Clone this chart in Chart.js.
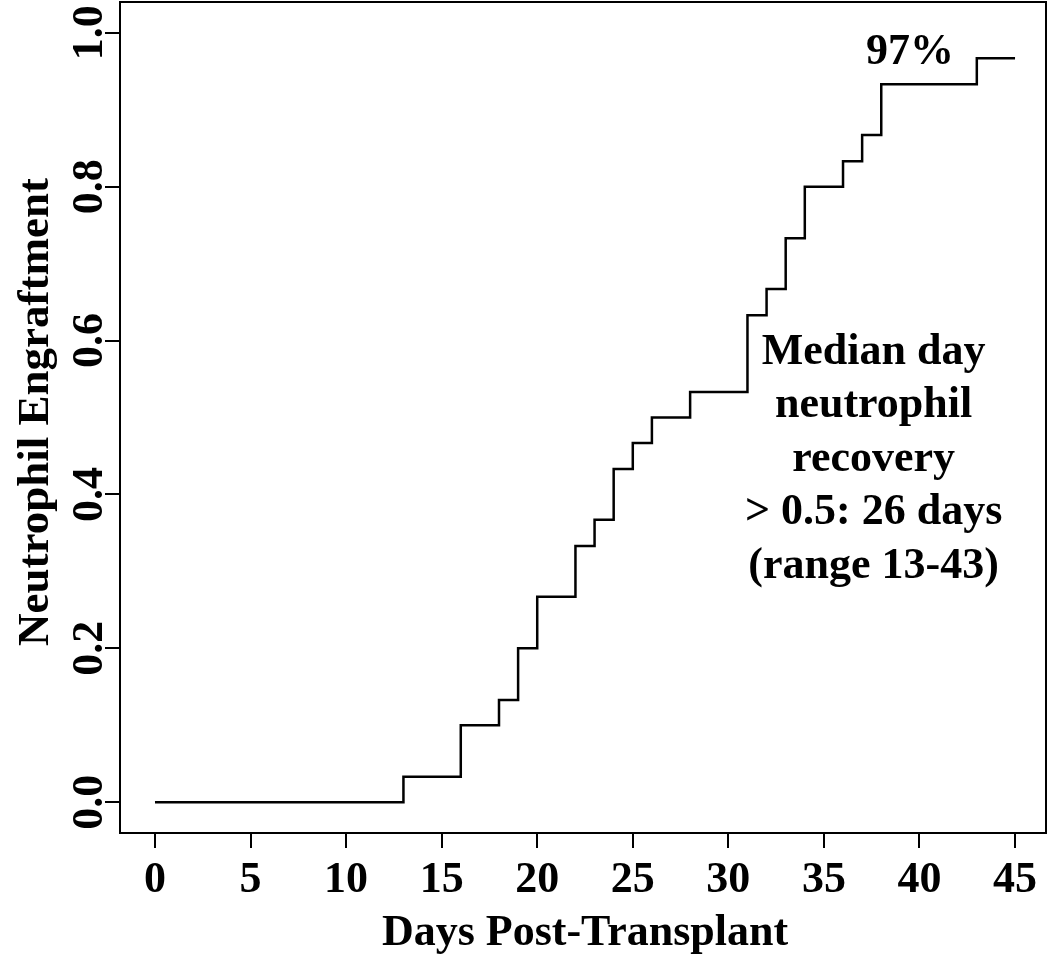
<!DOCTYPE html>
<html>
<head>
<meta charset="utf-8">
<script src="https://cdn.jsdelivr.net/npm/chart.js@4/dist/chart.umd.min.js"></script>
<style>
  html, body { margin: 0; padding: 0; background: #fff; }
  #wrap { width: 1050px; height: 955px; }
</style>
</head>
<body>
<div id="wrap"><canvas id="chart" width="1050" height="955"></canvas></div>
<script>
// step curve: day of each engraftment event and cumulative fraction engrafted
const days = [0, 13, 16, 18, 19, 20, 22, 23, 24, 25, 26, 28, 31, 32, 33, 34, 36, 37, 38, 43, 45];
const engraft = [0, 0.033, 0.1, 0.133, 0.2, 0.267, 0.333, 0.367, 0.433, 0.467, 0.5, 0.533, 0.633, 0.667, 0.733, 0.8, 0.833, 0.867, 0.933, 0.967, 0.967];

const xTicks = [0, 5, 10, 15, 20, 25, 30, 35, 40, 45];
const yTicks = [0, 0.2, 0.4, 0.6, 0.8, 1.0];
const yTickLabels = ['0.0', '0.2', '0.4', '0.6', '0.8', '1.0'];

const xTitle = 'Days Post-Transplant';
const yTitle = 'Neutrophil Engraftment';
const finalLabel = '97%';
const medianNote = ['Median day', 'neutrophil', 'recovery', '> 0.5: 26 days', '(range 13-43)'];

const FONT = "'Liberation Serif', 'Times New Roman', serif";

const textPlugin = {
  id: 'textPlugin',
  afterDraw(chart) {
    const ctx = chart.ctx;
    const area = chart.chartArea;
    const xs = chart.scales.x;
    const ys = chart.scales.y;
    ctx.save();
    // box round the plot
    ctx.strokeStyle = '#000';
    ctx.lineWidth = 2;
    ctx.strokeRect(area.left, area.top, area.right - area.left, area.bottom - area.top);

    ctx.fillStyle = '#000';
    ctx.font = 'bold 44px ' + FONT;
    ctx.textAlign = 'center';
    ctx.textBaseline = 'alphabetic';

    // rotated y tick labels
    yTicks.forEach((v, i) => {
      ctx.save();
      ctx.translate(102, ys.getPixelForValue(v));
      ctx.rotate(-Math.PI / 2);
      ctx.fillText(yTickLabels[i], 0, 0);
      ctx.restore();
    });

    // y title
    ctx.save();
    ctx.font = 'bold 45px ' + FONT;
    ctx.translate(48, 412);
    ctx.rotate(-Math.PI / 2);
    ctx.fillText(yTitle, 0, 0);
    ctx.restore();

    // x title
    ctx.fillText(xTitle, 585, 945);

    // annotations
    ctx.fillText(finalLabel, xs.getPixelForValue(39.5), ys.getPixelForValue(0.96));
    const x0 = xs.getPixelForValue(37.6);
    const y0 = ys.getPixelForValue(0.57);
    medianNote.forEach((line, i) => {
      ctx.fillText(line, x0, y0 + i * 53.5);
    });
    ctx.restore();
  }
};

new Chart(document.getElementById('chart').getContext('2d'), {
  type: 'line',
  data: {
    datasets: [{
      data: days.map((d, i) => ({ x: d, y: engraft[i] })),
      stepped: 'before',
      borderColor: '#000',
      borderWidth: 2.5,
      pointRadius: 0,
      fill: false
    }]
  },
  options: {
    responsive: false,
    animation: false,
    layout: { padding: { top: 2, right: 4, left: 0, bottom: 0 } },
    plugins: { legend: { display: false }, tooltip: { enabled: false } },
    scales: {
      x: {
        type: 'linear',
        min: -1.83,
        max: 46.62,
        afterBuildTicks: s => { s.ticks = xTicks.map(v => ({ value: v })); },
        afterFit: s => { s.height = 122; },
        border: { display: false },
        grid: { drawOnChartArea: false, drawTicks: true, tickLength: 15, tickColor: '#000', lineWidth: 2 },
        ticks: {
          color: '#000',
          padding: 6,
          maxRotation: 0,
          font: { family: FONT, weight: 'bold', size: 44 },
          callback: v => String(v)
        }
      },
      y: {
        type: 'linear',
        min: -0.04,
        max: 1.04,
        afterBuildTicks: s => { s.ticks = yTicks.map(v => ({ value: v })); },
        afterFit: s => { s.width = 120; },
        border: { display: false },
        grid: { drawOnChartArea: false, drawTicks: true, tickLength: 15, tickColor: '#000', lineWidth: 2 },
        ticks: { display: false }
      }
    }
  },
  plugins: [textPlugin]
});
</script>
</body>
</html>
